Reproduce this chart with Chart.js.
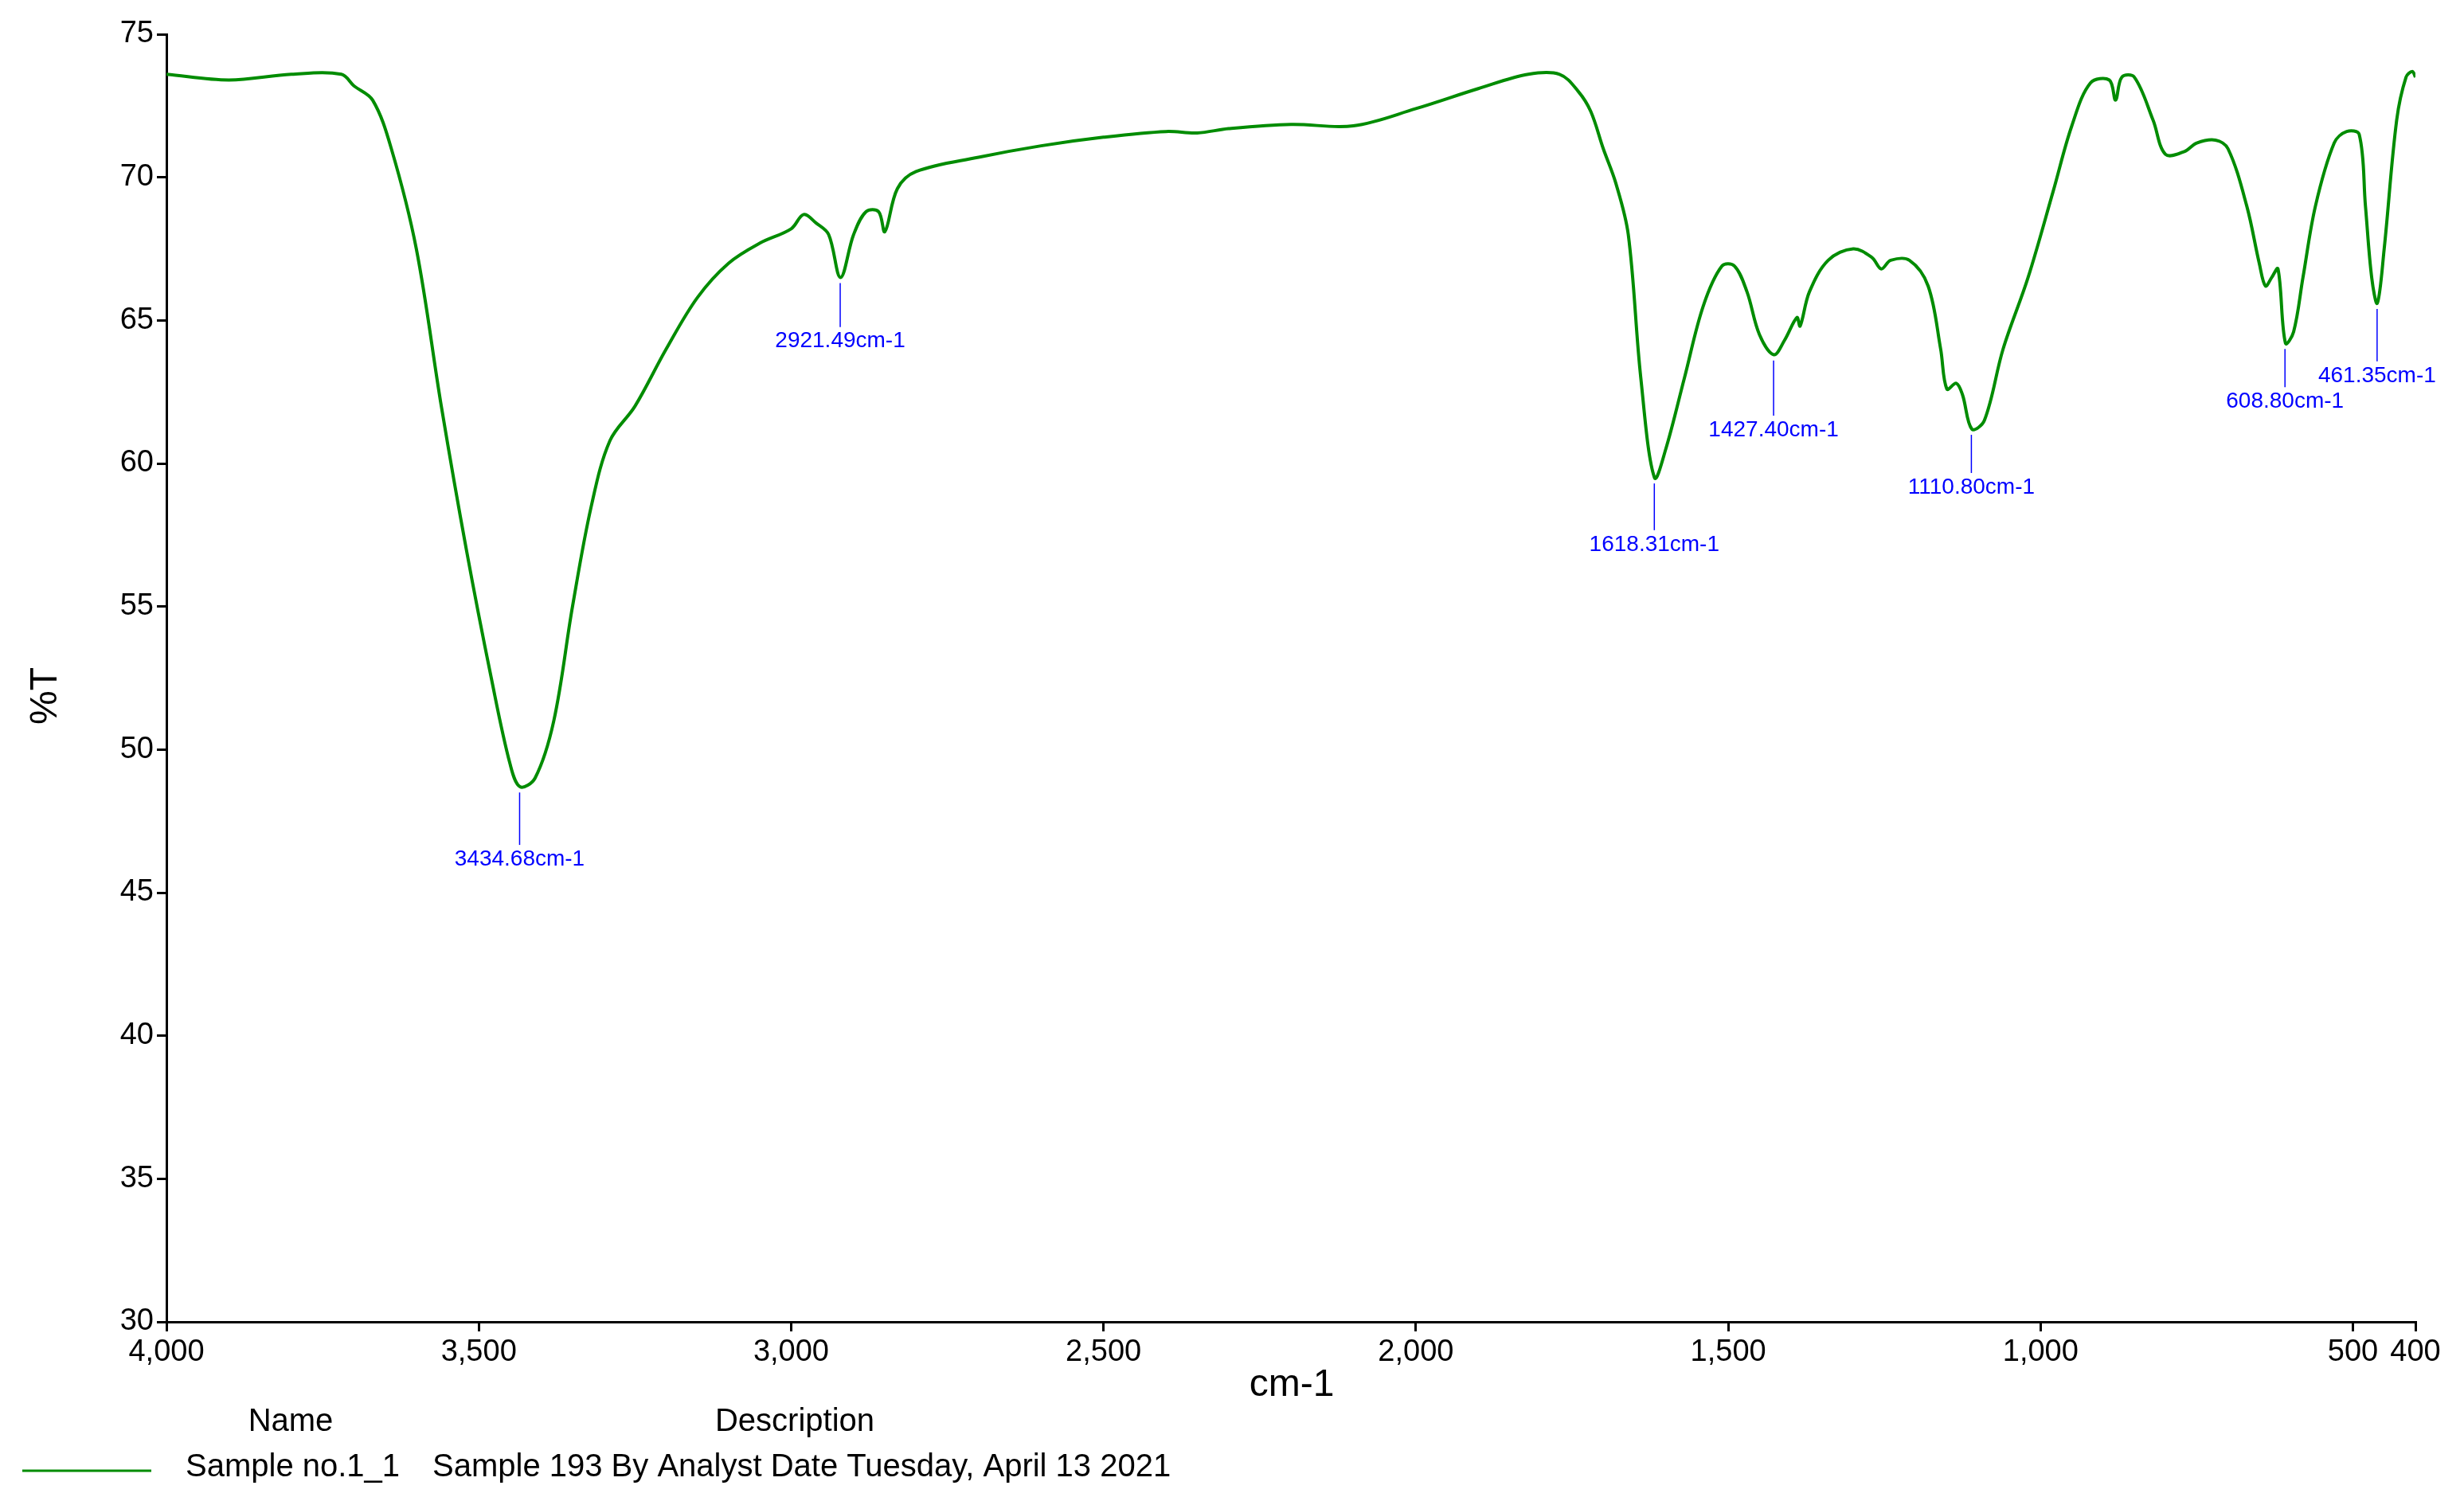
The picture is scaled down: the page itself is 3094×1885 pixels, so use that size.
<!DOCTYPE html>
<html>
<head>
<meta charset="utf-8">
<script src="https://cdn.jsdelivr.net/npm/chart.js@4/dist/chart.umd.min.js"></script>
<style>
  html, body { margin: 0; padding: 0; background: #fff; }
  #wrap { width: 3094px; height: 1885px; }
</style>
</head>
<body>
<div id="wrap"><canvas id="irChart"></canvas></div>
<script>
// FTIR spectrum, values
const wavenumbers = [4000, 3900, 3800, 3720, 3700, 3670, 3640, 3600, 3560, 3520, 3480, 3450, 3434, 3410, 3380, 3350, 3320, 3290, 3250, 3200, 3150, 3100, 3050, 3000, 2980, 2960, 2940, 2921, 2900, 2880, 2860, 2850, 2830, 2800, 2700, 2600, 2500, 2400, 2350, 2300, 2200, 2100, 2000, 1900, 1820, 1770, 1740, 1720, 1700, 1680, 1660, 1640, 1618, 1600, 1570, 1540, 1510, 1490, 1470, 1450, 1427, 1410, 1390, 1385, 1370, 1340, 1300, 1270, 1255, 1240, 1210, 1180, 1160, 1150, 1135, 1125, 1110, 1090, 1060, 1020, 980, 950, 920, 890, 880, 870, 850, 820, 800, 770, 750, 720, 700, 670, 650, 640, 630, 620, 608, 595, 580, 560, 530, 510, 490, 480, 470, 461, 450, 430, 415, 405, 400];
const transmittance = [73.6, 73.4, 73.6, 73.6, 73.2, 72.7, 71.0, 67.5, 62.0, 57.0, 52.5, 49.5, 48.7, 49.0, 51.0, 55.0, 58.5, 60.8, 62.0, 64.0, 65.8, 67.0, 67.7, 68.2, 68.7, 68.4, 68.0, 66.5, 68.0, 68.8, 68.8, 68.1, 69.6, 70.2, 70.7, 71.1, 71.4, 71.6, 71.55, 71.7, 71.85, 71.8, 72.4, 73.1, 73.6, 73.6, 73.0, 72.3, 71.0, 69.8, 68.0, 63.0, 59.5, 60.5, 63.0, 65.5, 66.9, 66.9, 66.0, 64.5, 63.8, 64.3, 65.1, 64.8, 66.0, 67.1, 67.5, 67.2, 66.8, 67.1, 67.1, 66.2, 64.0, 62.6, 62.8, 62.4, 61.2, 61.5, 64.0, 66.5, 69.5, 71.8, 73.3, 73.4, 72.7, 73.5, 73.5, 72.0, 70.8, 70.9, 71.2, 71.3, 71.0, 69.0, 67.0, 66.2, 66.5, 66.8, 64.2, 64.6, 66.5, 69.0, 71.2, 71.6, 71.5, 69.0, 66.5, 65.6, 67.5, 72.0, 73.5, 73.7, 73.5];

const xTicks = [4000, 3500, 3000, 2500, 2000, 1500, 1000, 500, 400];
const yTicks = [30, 35, 40, 45, 50, 55, 60, 65, 70, 75];

// peak labels: position, peak value, label value
const peakX = [3434.68, 2921.49, 1618.31, 1427.40, 1110.80, 608.80, 461.35];
const peakTop = [48.5, 66.3, 59.3, 63.6, 61.0, 64.0, 65.4];
const peakLabelY = [46.5, 64.6, 57.5, 61.5, 59.5, 62.5, 63.4];

const points = wavenumbers.map((w, i) => ({ x: w, y: transmittance[i] }));

const FONT = "'Liberation Sans', Arial, sans-serif";

const extras = {
  id: "extras",
  afterDraw(chart) {
    const { ctx, scales } = chart;
    const x = scales.x, y = scales.y;
    ctx.save();
    // peak annotations
    ctx.strokeStyle = "#0000ff";
    ctx.fillStyle = "#0000ff";
    ctx.lineWidth = 1.5;
    ctx.font = "28px " + FONT;
    ctx.textAlign = "center";
    ctx.textBaseline = "top";
    peakX.forEach((p, i) => {
      const px = x.getPixelForValue(p);
      const top = y.getPixelForValue(peakTop[i]);
      const bot = y.getPixelForValue(peakLabelY[i]) - 6;
      ctx.beginPath();
      ctx.moveTo(px, top);
      ctx.lineTo(px, bot);
      ctx.stroke();
      ctx.fillText(p.toFixed(2) + "cm-1", px, bot + 4);
    });
    // axis titles
    ctx.fillStyle = "#000";
    ctx.textBaseline = "middle";
    ctx.font = "48px " + FONT;
    ctx.fillText("cm-1", 1622, 1740);
    ctx.save();
    ctx.translate(58, 874);
    ctx.rotate(-Math.PI / 2);
    ctx.fillText("%T", 0, 0);
    ctx.restore();
    // legend table
    ctx.font = "40px " + FONT;
    ctx.fillText("Name", 365, 1786);
    ctx.fillText("Description", 998, 1786);
    ctx.textAlign = "left";
    ctx.fillText("Sample no.1_1", 233, 1843);
    ctx.fillText("Sample 193 By Analyst Date Tuesday, April 13 2021", 543, 1843);
    ctx.strokeStyle = "#008c00";
    ctx.lineWidth = 3;
    ctx.beginPath();
    ctx.moveTo(28, 1847);
    ctx.lineTo(190, 1847);
    ctx.stroke();
    ctx.restore();
  }
};

new Chart(document.getElementById("irChart"), {
  type: "line",
  data: {
    datasets: [
      {
        label: "Sample no.1_1",
        data: points,
        borderColor: "#008c00",
        borderWidth: 4,
        pointRadius: 0,
        tension: 0.35,
        fill: false,
      },
    ],
  },
  options: {
    responsive: true,
    maintainAspectRatio: false,
    animation: false,
    devicePixelRatio: 1,
    layout: { padding: { top: 43, right: 61, left: 0, bottom: 0 } },
    plugins: {
      legend: { display: false },
      tooltip: { enabled: false },
    },
    scales: {
      x: {
        type: "linear",
        reverse: true,
        min: 400,
        max: 4000,
        afterBuildTicks: (axis) => { axis.ticks = xTicks.map((v) => ({ value: v })); },
        afterFit: (axis) => { axis.height = 225; },
        grid: { drawOnChartArea: false, drawTicks: true, tickLength: 12, color: "#000", lineWidth: 3 },
        border: { color: "#000", width: 3 },
        ticks: { color: "#000", font: { family: FONT, size: 38 }, maxRotation: 0, autoSkip: false, padding: 4 },
      },
      y: {
        min: 30,
        max: 75,
        afterBuildTicks: (axis) => { axis.ticks = yTicks.map((v) => ({ value: v })); },
        afterFit: (axis) => { axis.width = 209; },
        grid: { drawOnChartArea: false, drawTicks: true, tickLength: 12, color: "#000", lineWidth: 3 },
        border: { color: "#000", width: 3 },
        ticks: { color: "#000", font: { family: FONT, size: 38 }, padding: 4 },
      },
    },
  },
  plugins: [extras],
});
</script>
</body>
</html>
